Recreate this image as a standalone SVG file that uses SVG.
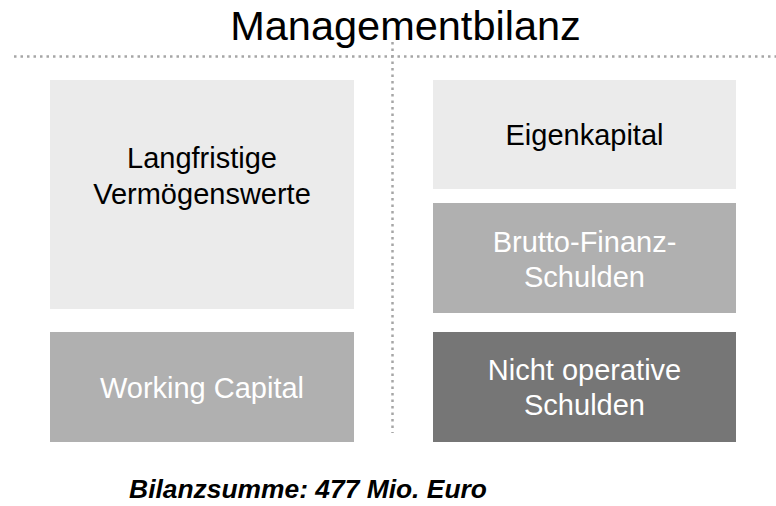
<svg xmlns="http://www.w3.org/2000/svg" width="776" height="506" viewBox="0 0 776 506">
<style>
text{font-family:"Liberation Sans",Arial,sans-serif;text-anchor:middle}
.t{font-size:29px}
.light{fill:#ebebeb}
.mid{fill:#b0b0b0}
.dark{fill:#767676}
.dk{fill:#000}
.wt{fill:#ffffff}
.sep{stroke:#a6a6a6;stroke-width:2.5;stroke-dasharray:2.5 4;fill:none}
</style>
<rect width="776" height="506" fill="#fff"/>
<text x="405.5" y="40" font-size="41.5" class="dk">Managementbilanz</text>
<g id="connectors">
<line class="sep" x1="14" y1="56.5" x2="776" y2="56.5"/>
<line class="sep" x1="392.5" y1="42" x2="392.5" y2="433"/>
</g>
<g id="langfristige">
<rect class="light" x="50" y="80" width="304" height="229"/>
<text class="t dk" x="202" y="168">Langfristige</text>
<text class="t dk" x="202" y="204">Vermögenswerte</text>
</g>
<g id="working-capital">
<rect class="mid" x="50" y="332" width="304" height="110"/>
<text class="t wt" x="202" y="398">Working Capital</text>
</g>
<g id="eigenkapital">
<rect class="light" x="433" y="80" width="303" height="109"/>
<text class="t dk" x="584.5" y="145">Eigenkapital</text>
</g>
<g id="brutto">
<rect class="mid" x="433" y="203" width="303" height="110"/>
<text class="t wt" x="584.5" y="252">Brutto-Finanz-</text>
<text class="t wt" x="584.5" y="287">Schulden</text>
</g>
<g id="nicht-operativ">
<rect class="dark" x="433" y="332" width="303" height="110"/>
<text class="t wt" x="584.5" y="380">Nicht operative</text>
<text class="t wt" x="584.5" y="415">Schulden</text>
</g>
<text x="308" y="498" font-size="26.4" font-weight="bold" font-style="italic" class="dk">Bilanzsumme: 477 Mio. Euro</text>
</svg>
